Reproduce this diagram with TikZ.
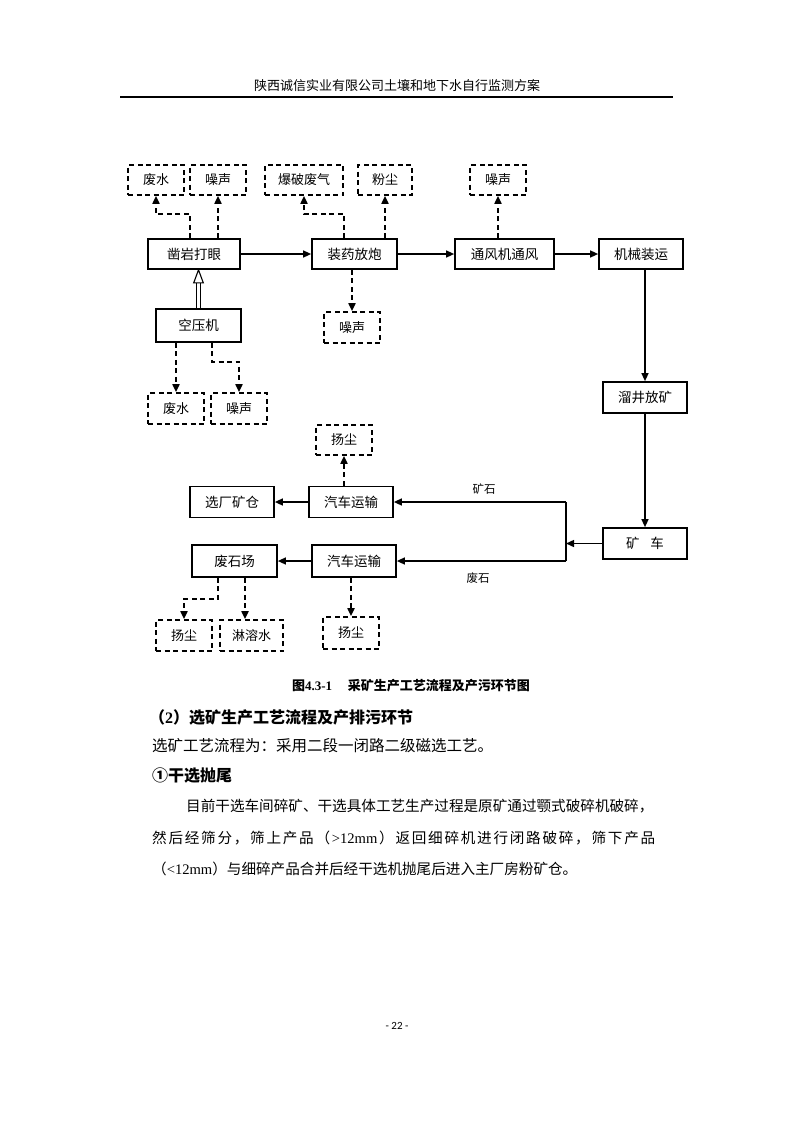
\documentclass[tikz,border=0pt]{standalone}
\usepackage{fontspec}
\setmainfont{Noto Sans CJK SC}
\newfontfamily\latin{Liberation Serif}
\newfontfamily\pgfont{Carlito}
\usetikzlibrary{arrows.meta,calc}
\newcommand{\hf}{\hfill}
\begin{document}
\begin{tikzpicture}[x=1pt,y=-1pt,
  box/.style={draw,line width=1.7pt,inner sep=0pt,minimum height=31pt,font=\fontsize{13.5}{16}\selectfont},
  dbox/.style={draw,line width=1.7pt,dash pattern=on 5pt off 3.5pt,inner sep=0pt,minimum height=31pt,font=\fontsize{13}{16}\selectfont},
  arr/.style={line width=1.4pt,-{Triangle[length=8pt,width=7pt]}},
  darr/.style={line width=1.8pt,dash pattern=on 5pt off 3.5pt,-{Triangle[length=8pt,width=7pt]}},
  lbl/.style={inner sep=0pt,font=\fontsize{11.5}{14}\selectfont},
  body/.style={anchor=west,inner sep=0pt,font=\fontsize{14.6}{18}\selectfont},
]
\useasboundingbox[fill=white] (0,0) rectangle (793,1122);

% header
\node[inner sep=0pt,font=\fontsize{13}{15}\selectfont] (hdr) at (397,86) {陕西诚信实业有限公司土壤和地下水自行监测方案};
\coordinate (hl) at (120,97);
\coordinate (hr) at (673,97);
\draw[line width=1.4pt] (hl) -- (hr);

% solid boxes
\node[box,minimum width=92pt,minimum height=30pt] (zy) at (194,254) {凿岩打眼};
\node[box,minimum width=85pt,minimum height=30pt] (zy2) at (354.5,254) {装药放炮};
\node[box,minimum width=99pt,minimum height=30pt] (tf) at (504.5,254) {通风机通风};
\node[box,minimum width=84pt,minimum height=30pt] (jx) at (641,254) {机械装运};
\node[box,minimum width=85pt,minimum height=33pt] (kyj) at (198.5,325.5) {空压机};
\node[box,minimum width=84pt] (lj) at (645,397.5) {溜井放矿};
\node[box,minimum width=84pt] (kc) at (645,543.5) {矿\hspace{0.8em}车};
\node[box,minimum width=84pt] (qc1) at (351,502) {汽车运输};
\node[box,minimum width=84pt] (xc) at (232,502) {选厂矿仓};
\node[box,minimum width=84pt,minimum height=32pt] (qc2) at (354,561) {汽车运输};
\node[box,minimum width=85pt,minimum height=32pt] (fsc) at (234.5,561) {废石场};

% dashed boxes
\node[dbox,minimum width=56pt,minimum height=30pt] (fs1) at (156,180) {废水};
\node[dbox,minimum width=56pt,minimum height=30pt] (zs1) at (218,180) {噪声};
\node[dbox,minimum width=78pt,minimum height=30pt] (bp) at (304,180) {爆破废气};
\node[dbox,minimum width=54pt,minimum height=30pt] (fc) at (385,180) {粉尘};
\node[dbox,minimum width=56pt,minimum height=30pt] (zs2) at (498,180) {噪声};
\node[dbox,minimum width=56pt] (zs3) at (352,327.5) {噪声};
\node[dbox,minimum width=56pt] (fs2) at (176,408.5) {废水};
\node[dbox,minimum width=56pt] (zs4) at (239,408.5) {噪声};
\node[dbox,minimum width=56pt,minimum height=30pt] (yc1) at (344,440) {扬尘};
\node[dbox,minimum width=56pt] (yc2) at (184,635.5) {扬尘};
\node[dbox,minimum width=63pt] (lrs) at (251.5,635.5) {淋溶水};
\node[dbox,minimum width=56pt,minimum height=32pt] (yc3) at (351,633) {扬尘};

% main flow
\draw[arr] (zy.east) -- (zy2.west);
\draw[arr] (zy2.east) -- (tf.west);
\draw[arr] (tf.east) -- (jx.west);
\draw[arr] (jx.south -| lj.north) -- (lj.north);
\draw[arr] (lj.south) -- (kc.north);
\coordinate (jt) at (566,502);
\coordinate (jb) at (566,561);
\draw[line width=1.4pt] (jt) -- (jb);
\draw[arr] (kc.west) -- (kc.west -| jt);
\draw[arr] (jt) -- (qc1.east);
\draw[arr] (jb) -- (qc2.east);
\draw[arr] (qc1.west) -- (xc.east);
\draw[arr] (qc2.west) -- (fsc.east);
\node[lbl] (l1) at (484,489) {矿石};
\node[lbl] (l2) at (478,578) {废石};

% hollow arrow 空压机 -> 凿岩打眼
\coordinate (tip) at (zy.south -| kyj.north);
\draw[line width=1.1pt,double distance=3pt] (kyj.north) -- ($(tip)+(0,13)$);
\draw[line width=1.1pt,fill=white,line join=miter] ($(tip)+(-4.8,13)$) -- (tip) -- ($(tip)+(4.8,13)$) -- cycle;

% dashed emissions
\draw[darr] ([xshift=-4pt]zy.north) -- ++(0,-24) -| (fs1.south);
\draw[darr] (zs1.south |- zy.north) -- (zs1.south);
\draw[darr] ([xshift=-10.5pt]zy2.north) -- ++(0,-24) -| (bp.south);
\draw[darr] (fc.south |- zy2.north) -- (fc.south);
\draw[darr] (zs2.south |- tf.north) -- (zs2.south);
\draw[darr] (zs3.north |- zy2.south) -- (zs3.north);
\draw[darr] (fs2.north |- kyj.south) -- (fs2.north);
\draw[darr] ([xshift=13.5pt]kyj.south) -- ++(0,19) -| (zs4.north);
\draw[darr] (yc1.south |- qc1.north) -- (yc1.south);
\draw[darr] ([xshift=-16.5pt]fsc.south) -- ++(0,21) -| (yc2.north);
\draw[darr] ([xshift=10.5pt]fsc.south) -- ([xshift=10.5pt]fsc.south |- lrs.north);
\draw[darr] (yc3.north |- qc2.south) -- (yc3.north);

% caption and body text
\node[inner sep=0pt,font=\fontsize{13}{15}\selectfont\bfseries] (cap) at (411,686) {图{\latin\bfseries 4.3-1}\hspace{1.2em}采矿生产工艺流程及产污环节图};
\node[body,font=\fontsize{16}{18}\selectfont\bfseries] (h2) at (149,717) {（{\latin\bfseries 2}）选矿生产工艺流程及产排污环节};
\node[body,font=\fontsize{15.5}{18}\selectfont] (t1) at (152,746) {选矿工艺流程为：采用二段一闭路二级磁选工艺。};
\node[body,font=\fontsize{16}{18}\selectfont\bfseries] (h3) at (152,776) {①干选抛尾};
\node[body] (p1) at (186,806) {目前干选车间碎矿、干选具体工艺生产过程是原矿通过颚式破碎机破碎，};
\node[body] (p2) at (152,838) {\hbox to 503pt{然\hf 后\hf 经\hf 筛\hf 分\hf ，\hf 筛\hf 上\hf 产\hf 品\hf （\hf {\latin >12mm}\hf ）\hf 返\hf 回\hf 细\hf 碎\hf 机\hf 进\hf 行\hf 闭\hf 路\hf 破\hf 碎\hf ，\hf 筛\hf 下\hf 产\hf 品}};
\node[body] (p3) at (152,869) {（{\latin <12mm}）与细碎产品合并后经干选机抛尾后进入主厂房粉矿仓。};

\node[inner sep=0pt,font=\pgfont\fontsize{11}{13}\selectfont] (pg) at (397,1026) {- 22 -};
\end{tikzpicture}
\end{document}
